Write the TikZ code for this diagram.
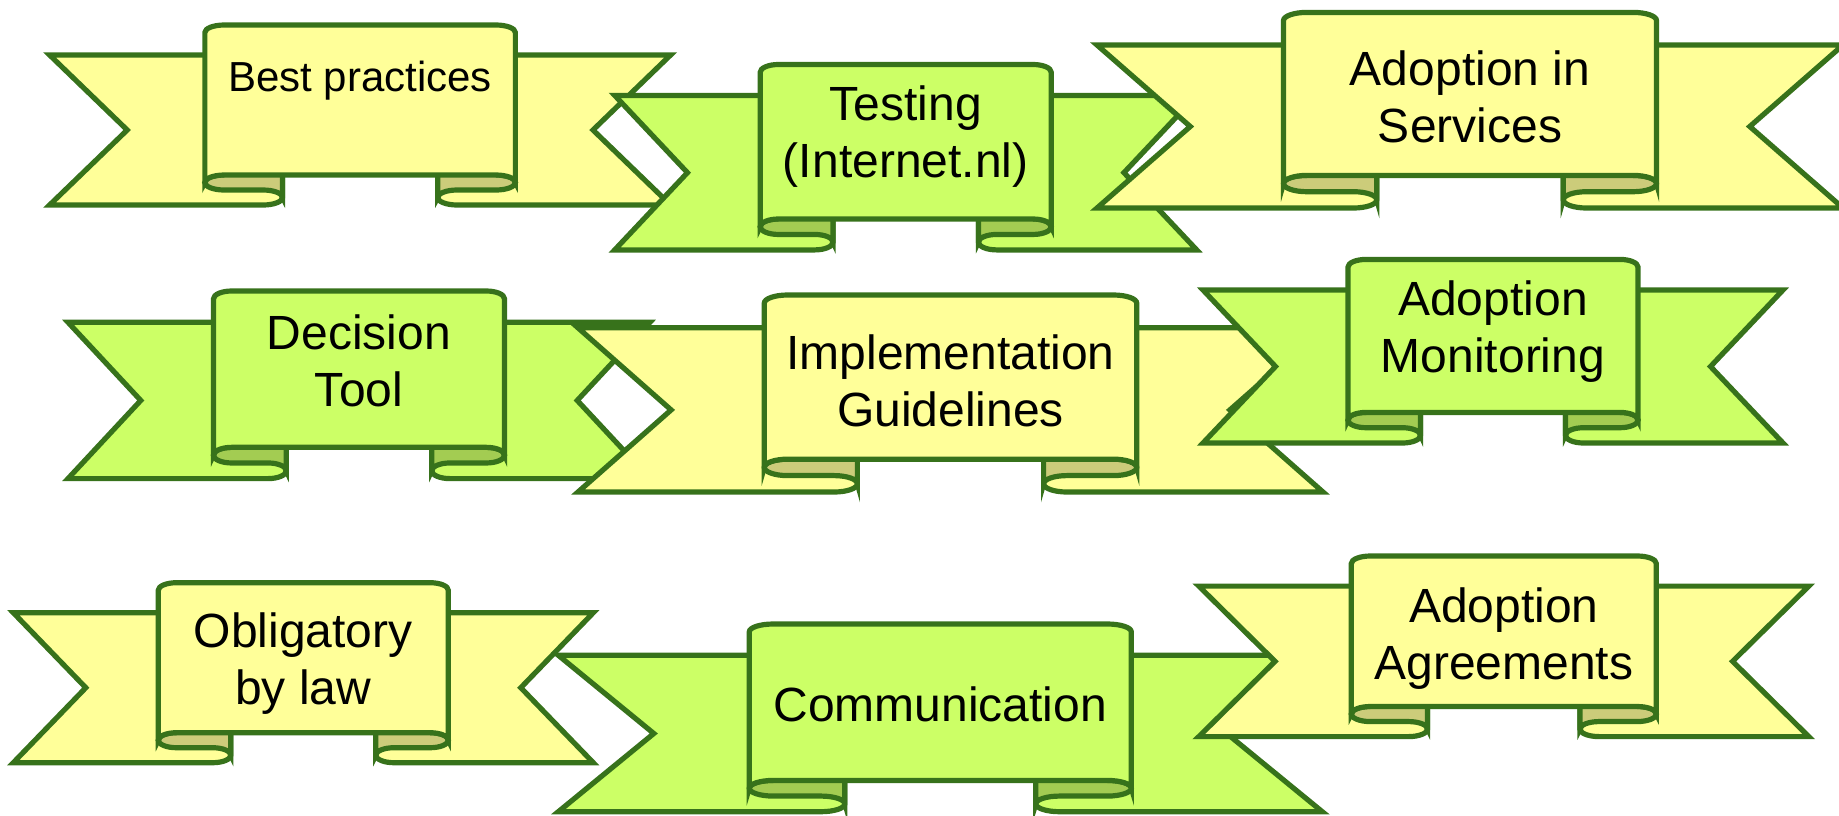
\documentclass[tikz,border=0pt]{standalone}
\usepackage{fontspec}
\setmainfont{Liberation Sans}
\definecolor{rim}{HTML}{37721B}
\definecolor{paleyellow}{HTML}{FFFF99}
\definecolor{rollyellow}{HTML}{CCCC7A}
\definecolor{palegreen}{HTML}{CCFF66}
\definecolor{rollgreen}{HTML}{A3CC52}
\tikzset{
  rimline/.style={draw=rim, line width=5.2pt},
  lbl/.style={anchor=base, inner sep=0pt, font=\fontsize{48}{57.6}\selectfont},
  smalllbl/.style={lbl, font=\fontsize{42}{50}\selectfont}
}
% \ribbon{face}{roll}{left}{top}{width}{height}
\newcommand{\ribbon}[6]{%
  \pgfmathsetmacro{\rbl}{#3}\pgfmathsetmacro{\rbr}{#3+#5}%
  \pgfmathsetmacro{\rbt}{#4}\pgfmathsetmacro{\rbb}{#4+#6}%
  \pgfmathsetmacro{\rbxa}{#3+#5/4}\pgfmathsetmacro{\rbxb}{#3+3*#5/4}%
  \pgfmathsetmacro{\rbxc}{\rbxa+#5/32}\pgfmathsetmacro{\rbxd}{\rbxb-#5/32}%
  \pgfmathsetmacro{\rbxe}{\rbxa+#5/8}\pgfmathsetmacro{\rbxf}{\rbxb-#5/8}%
  \pgfmathsetmacro{\rbxg}{\rbxe-#5/32}\pgfmathsetmacro{\rbxh}{\rbxf+#5/32}%
  \pgfmathsetmacro{\rbex}{#5/32}\pgfmathsetmacro{\rbey}{#6/24}%
  \pgfmathsetmacro{\rbnl}{#3+#5/8}\pgfmathsetmacro{\rbnr}{#3+7*#5/8}%
  \pgfmathsetmacro{\rbya}{#4+#6/6}\pgfmathsetmacro{\rbyn}{#4+7*#6/12}%
  \pgfmathsetmacro{\rbyb}{#4+5*#6/6}\pgfmathsetmacro{\rbyc}{#4+11*#6/12}%
  \pgfmathsetmacro{\rbyd}{#4+23*#6/24}\pgfmathsetmacro{\rbye}{#4+#6/24}%
  \pgfmathsetmacro{\rbyf}{#4+5*#6/6+#6/24}%
  % tails
  \path[rimline, fill=#1] (\rbl,\rbya) -- (\rbxe,\rbya) -- (\rbxe,\rbyd)
    arc[start angle=0, end angle=90, x radius=\rbex, y radius=\rbey]
    -- (\rbl,\rbb) -- (\rbnl,\rbyn) -- cycle;
  \path[rimline, fill=#1] (\rbr,\rbya) -- (\rbxf,\rbya) -- (\rbxf,\rbyd)
    arc[start angle=180, end angle=90, x radius=\rbex, y radius=\rbey]
    -- (\rbr,\rbb) -- (\rbnr,\rbyn) -- cycle;
  % rolls
  \fill[#2] (\rbxc,\rbyb) -- (\rbxe,\rbyb) -- (\rbxe,\rbyd)
    arc[start angle=0, end angle=-90, x radius=\rbex, y radius=\rbey]
    -- (\rbxc,\rbyc) arc[start angle=90, end angle=270, x radius=\rbex, y radius=\rbey] -- cycle;
  \fill[#2] (\rbxd,\rbyb) -- (\rbxf,\rbyb) -- (\rbxf,\rbyd)
    arc[start angle=180, end angle=270, x radius=\rbex, y radius=\rbey]
    -- (\rbxd,\rbyc) arc[start angle=90, end angle=-90, x radius=\rbex, y radius=\rbey] -- cycle;
  \draw[rimline] (\rbxe,\rbyb) -- (\rbxe,\rbyd)
    arc[start angle=0, end angle=-90, x radius=\rbex, y radius=\rbey]
    -- (\rbxc,\rbyc) arc[start angle=90, end angle=270, x radius=\rbex, y radius=\rbey];
  \draw[rimline] (\rbxf,\rbyb) -- (\rbxf,\rbyd)
    arc[start angle=180, end angle=270, x radius=\rbex, y radius=\rbey]
    -- (\rbxd,\rbyc) arc[start angle=90, end angle=-90, x radius=\rbex, y radius=\rbey];
  % panel
  \path[rimline, fill=#1] (\rbxa,\rbyf) -- (\rbxa,\rbye)
    arc[start angle=180, end angle=270, x radius=\rbex, y radius=\rbey]
    -- (\rbxd,\rbt) arc[start angle=270, end angle=360, x radius=\rbex, y radius=\rbey]
    -- (\rbxb,\rbyf) arc[start angle=0, end angle=-90, x radius=\rbex, y radius=\rbey]
    -- (\rbxc,\rbyb) arc[start angle=270, end angle=180, x radius=\rbex, y radius=\rbey]
    -- cycle;
}
\begin{document}
\begin{tikzpicture}[x=1pt, y=-1pt]
\useasboundingbox (0,0) rectangle (1839,815);
\clip (0,0) rectangle (1839,815);

\ribbon{paleyellow}{rollyellow}{49.6}{25}{621}{180}
\node[smalllbl] (best) at (360.1,91) {Best practices};

\ribbon{palegreen}{rollgreen}{614.7}{64.5}{582}{185.4}
\node[lbl] (test1) at (905.7,120) {Testing};
\node[lbl] (test2) at (905.7,177.6) {(Internet.nl)};

\ribbon{paleyellow}{rollyellow}{1097}{12.4}{746}{195.6}
\node[lbl] (adsv1) at (1470,85) {Adoption in};
\node[lbl] (adsv2) at (1470,142.6) {Services};

\ribbon{palegreen}{rollgreen}{68}{291}{582}{187.6}
\node[lbl] (deci1) at (359,349) {Decision};
\node[lbl] (deci2) at (359,406.6) {Tool};

\ribbon{paleyellow}{rollyellow}{578}{295}{745}{197}
\node[lbl] (impl1) at (950.5,369) {Implementation};
\node[lbl] (impl2) at (950.5,426.6) {Guidelines};

\ribbon{palegreen}{rollgreen}{1203}{259.4}{580}{183.6}
\node[lbl] (admo1) at (1493,315) {Adoption};
\node[lbl] (admo2) at (1493,372.6) {Monitoring};

\ribbon{paleyellow}{rollyellow}{13.3}{582.7}{580}{180}
\node[lbl] (obli1) at (303.3,647.3) {Obligatory};
\node[lbl] (obli2) at (303.3,704.9) {by law};

\ribbon{palegreen}{rollgreen}{558.3}{624}{764}{187.7}
\node[lbl] (comm) at (940.3,721.7) {Communication};

\ribbon{paleyellow}{rollyellow}{1198.8}{556}{610}{180.6}
\node[lbl] (adag1) at (1503.8,622) {Adoption};
\node[lbl] (adag2) at (1503.8,679.6) {Agreements};
\end{tikzpicture}
\end{document}
